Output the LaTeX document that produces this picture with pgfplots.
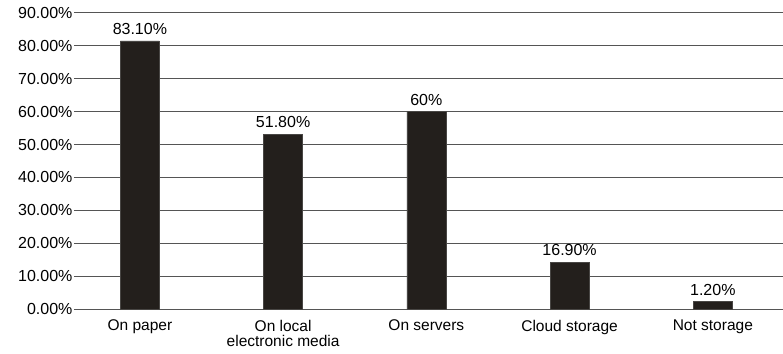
\documentclass[border=0pt]{standalone}
\usepackage{pgfplots}
\pgfplotsset{compat=1.18}
\usepackage{fontspec}
\setmainfont{Liberation Sans}
\definecolor{barcol}{RGB}{35,31,28}
\definecolor{gridcol}{RGB}{85,85,85}
\begin{document}
\begin{tikzpicture}
\path[use as bounding box] (-74pt,-44pt) rectangle (709pt,309pt);
\begin{axis}[
  at={(0,0)}, anchor=south west,
  scale only axis, width=709pt, height=296pt,
  xmin=-0.46, xmax=4.49, ymin=0, ymax=90,
  enlargelimits=false,
  axis line style={draw=none},
  major tick style={draw=none},
  ytick={0,10,...,90},
  ymajorgrids, grid style={gridcol, line width=1pt},
  /pgf/number format/assume math mode=true,
  yticklabel={\pgfmathprintnumber[fixed,fixed zerofill,precision=2]{\tick}\%},
  yticklabel style={font=\fontsize{16}{16}\selectfont, xshift=2pt},
  xtick={0,1,2,3,4},
  xticklabels={On paper,{On local\\electronic media},On servers,Cloud storage,Not storage},
  xticklabel style={font=\fontsize{15.5}{15}\selectfont, align=center, yshift=-3pt},
  ybar, bar width=39pt,
  point meta=explicit symbolic,
  nodes near coords={\pgfplotspointmeta},
  nodes near coords style={font=\fontsize{16}{16}\selectfont, inner sep=1pt, yshift=5pt},
  clip=false,
]
\addplot[fill=barcol, draw=barcol!60!gray, line width=0.5pt] coordinates {
  (0,81.5) [83.10\%]
  (1,53.1) [51.80\%]
  (2,60.0) [60\%]
  (3,14.2) [16.90\%]
  (4,2.3) [1.20\%]
};
\end{axis}
\end{tikzpicture}
\end{document}
